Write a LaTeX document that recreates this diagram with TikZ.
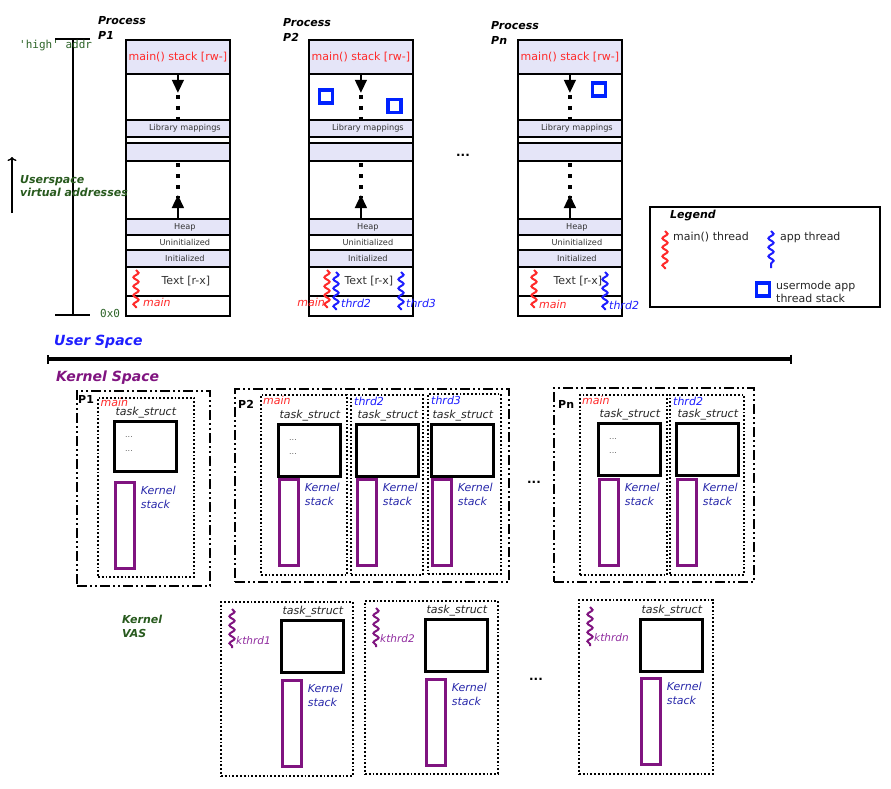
\documentclass[tikz,border=0pt]{standalone}
\usepackage{fontspec}
\setmainfont{DejaVu Sans}
\setmonofont{DejaVu Sans Mono}
\usetikzlibrary{arrows.meta,decorations.pathmorphing}

\definecolor{lav}{RGB}{229,229,248}
\definecolor{myred}{RGB}{255,42,42}
\definecolor{appblue}{RGB}{0,34,255}
\definecolor{thrblue}{RGB}{30,30,255}
\definecolor{kblue}{RGB}{40,40,170}
\definecolor{kpurple}{RGB}{128,20,128}
\definecolor{kthr}{RGB}{145,45,160}
\definecolor{vgreen}{RGB}{45,100,40}
\definecolor{dgreen}{RGB}{40,90,30}

% one user-space memory column of a process
\newcommand\ProcCol[2]{%
  \node[lavseg, minimum height=34pt, font=\fontsize{11}{13}\selectfont, text=myred] (#1-stack) at (#2,39) {main() stack [rw-]};
  \node[seg, minimum height=46pt] (#1-gapA) at (#2,73) {};
  \node[lavseg, minimum height=17pt] (#1-lib) at (#2,119) {\hspace*{14pt}Library mappings};
  \node[seg, minimum height=6pt] (#1-strip) at (#2,136) {};
  \node[lavseg, minimum height=18pt] (#1-map) at (#2,142) {};
  \node[seg, minimum height=58pt] (#1-gapB) at (#2,160) {};
  \node[lavseg, minimum height=16pt] (#1-heap) at (#2,218) {\hspace*{14pt}Heap};
  \node[seg, minimum height=15pt] (#1-bss) at (#2,234) {\hspace*{14pt}Uninitialized};
  \node[lavseg, minimum height=17pt] (#1-data) at (#2,249) {\hspace*{14pt}Initialized};
  \node[seg, minimum height=29pt, font=\fontsize{11}{13}\selectfont] (#1-text) at (#2,266) {\hspace*{16pt}Text [r-x]};
  \node[seg, minimum height=20pt] (#1-base) at (#2,295) {};
  % stack grows down, heap grows up
  \draw[growarrow] (#1-stack.south) -- ++(0,18) coordinate (#1-sd);
  \draw[growdots] ([yshift=-2pt]#1-sd) -- (#1-lib.north);
  \draw[growarrow] (#1-heap.north) -- ++(0,-23) coordinate (#1-hu);
  \draw[growdots] (#1-gapB.north) ++(0,3) -- ([yshift=-3pt]#1-hu);
}

% a task_struct with its kernel stack
\newcommand\Ctx[5]{%
  \node[tsk, minimum height=#4] (#1-task) at (#2,#3) {};
  \node[tslabel] at (#1-task.north east) {task\_struct};
  \node[kstk] (#1-kstk) at (#2+1,#5) {};
  \node[kslabel] at ([xshift=5pt,yshift=-5pt]#1-kstk.north east) {Kernel\\stack};
}
\newcommand\Elided[1]{%
  \node[elide] at ([xshift=12pt,yshift=-17pt]#1-task.north west) {...};
  \node[elide] at ([xshift=12pt,yshift=-31pt]#1-task.north west) {...};
}

\begin{document}
\begin{tikzpicture}[x=1pt,y=-1pt,
  seg/.style={draw, line width=1.8pt, inner sep=0pt, minimum width=104pt, anchor=north west,
    font=\fontsize{8.2}{9}\selectfont, text=black!80},
  lavseg/.style={seg, fill=lav},
  growarrow/.style={line width=1.5pt, -{Triangle[length=13pt,width=12pt]}},
  growdots/.style={line width=4pt, dash pattern=on 4pt off 7pt},
  appstk/.style={draw=appblue, line width=3.2pt, minimum size=13pt, inner sep=0pt},
  mainthr/.style={myred, line width=2pt, decorate, decoration={snake, segment length=9pt, amplitude=2.6pt}},
  appthr/.style={mainthr, thrblue},
  kthrd/.style={mainthr, kpurple},
  tname/.style={anchor=west, inner sep=0pt, font=\fontsize{11}{13}\selectfont\itshape},
  plabel/.style={anchor=north west, align=left, inner sep=0pt, font=\fontsize{11}{15}\selectfont\bfseries\itshape},
  procbox/.style={draw, line width=2pt, anchor=north west, inner sep=0pt,
    dash pattern=on 10pt off 3pt on 2pt off 3pt on 2pt off 3pt},
  thrbox/.style={draw, line width=1.8pt, anchor=north west, inner sep=0pt, dash pattern=on 1.8pt off 2pt},
  tsk/.style={draw, line width=2.8pt, anchor=north west, inner sep=0pt, minimum width=62pt},
  kstk/.style={draw=kpurple, line width=2.6pt, anchor=north west, inner sep=0pt, minimum width=19pt, minimum height=86pt},
  tslabel/.style={anchor=south east, inner sep=1.5pt, text=black!85, font=\fontsize{11}{13}\selectfont\itshape},
  kslabel/.style={anchor=north west, align=left, inner sep=0pt, text=kblue, font=\fontsize{11}{13.5}\selectfont\itshape},
  elide/.style={anchor=west, inner sep=0pt, text=black!60, font=\fontsize{8}{9}\selectfont},
  pk/.style={anchor=west, inner sep=0pt, font=\fontsize{11}{13}\selectfont\bfseries},
  more/.style={inner sep=0pt, font=\fontsize{12}{13}\selectfont\bfseries},
]
\fill[white] (0,0) rectangle (891,789);
\useasboundingbox (0,0) rectangle (891,789);

% ---------- user space ----------
\node[plabel] (p1lbl) at (98,16) {Process\\P1};
\node[plabel] (p2lbl) at (283,18) {Process\\P2};
\node[plabel] (pnlbl) at (491,21) {Process\\Pn};

\ProcCol{p1}{125}
\ProcCol{p2}{308}
\ProcCol{pn}{517}

% address range axis
\coordinate (hiL) at (55,39); \coordinate (hiR) at (90,39);
\coordinate (loL) at (55,315); \coordinate (loR) at (90,315);
\coordinate (axT) at (73,39); \coordinate (axB) at (73,315);
\draw[line width=1.5pt] (hiL) -- (hiR) (loL) -- (loR) (axT) -- (axB);
\node[anchor=west, inner sep=0pt, text=vgreen, font=\fontsize{11}{13}\ttfamily] (hi) at (19,46) {'high' addr};
\node[anchor=west, inner sep=0pt, text=vgreen, font=\fontsize{11}{13}\ttfamily] (lo) at (100,313) {0x0};
\coordinate (upB) at (12,213); \coordinate (upT) at (12,157);
\draw[line width=1.4pt, -{To[length=4pt,width=9pt]}] (upB) -- (upT);
\node[anchor=north west, align=left, inner sep=0pt, text=dgreen, font=\fontsize{11}{13}\selectfont\bfseries\itshape] (uva) at (20,175) {Userspace\\virtual addresses};

% user-mode thread stacks
\node[appstk] (s21) at (326,96.5) {};
\node[appstk] (s22) at (394.5,106) {};
\node[appstk] (sn2) at (599,89.5) {};

% threads
\draw[mainthr] (136,270) -- (136,308);
\node[tname, text=myred] at (143,302) {main};
\draw[mainthr] (327,270) -- (327,308);
\node[tname, text=myred, anchor=east] at (325,302) {main};
\draw[appthr] (336,272) -- (336,310);
\node[tname, text=thrblue] at (341,303) {thrd2};
\draw[appthr] (401,272) -- (401,310);
\node[tname, text=thrblue] at (406,303) {thrd3};
\draw[mainthr] (534,270) -- (534,308);
\node[tname, text=myred] at (539,304) {main};
\draw[appthr] (605,272) -- (605,310);
\node[tname, text=thrblue] at (609,305) {thrd2};

\node[more] (umore) at (463,155) {...};

% legend
\node[draw, line width=1.7pt, anchor=north west, minimum width=230pt, minimum height=100pt, inner sep=0pt] (legend) at (649,206) {};
\node[anchor=west, inner sep=0pt, font=\fontsize{11}{13}\selectfont\bfseries\itshape] at (670,216) {Legend};
\draw[mainthr] (665,231) -- (665,269);
\node[anchor=west, inner sep=0pt, font=\fontsize{11}{13}\selectfont, text=black!85] at (673,237) {main() thread};
\draw[appthr] (771,231) -- (771,268);
\node[anchor=west, inner sep=0pt, font=\fontsize{11}{13}\selectfont, text=black!85] at (780,237) {app thread};
\node[appstk] (lstk) at (763,289.5) {};
\node[anchor=west, align=left, inner sep=0pt, font=\fontsize{11}{13}\selectfont, text=black!85] at (776,291.5) {usermode app\\thread stack};

% ---------- user / kernel boundary ----------
\node[anchor=west, inner sep=0pt, text=thrblue, font=\fontsize{14}{16}\selectfont\bfseries\itshape] at (54,342) {User Space};
\coordinate (bndL) at (47,359); \coordinate (bndR) at (792,359);
\draw[line width=3.2pt, {Bar[width=9pt,line width=2pt]}-{Bar[width=9pt,line width=2pt]}] (bndL) -- (bndR);
\node[anchor=west, inner sep=0pt, text=kpurple, font=\fontsize{14}{16}\selectfont\bfseries\itshape] at (56,378) {Kernel Space};

% ---------- kernel: process P1 ----------
\node[procbox, minimum width=133pt, minimum height=195pt] (kp1) at (76,390) {};
\node[pk] at (78,399) {P1};
\node[thrbox, minimum width=96pt, minimum height=179pt] (k1m) at (97,397) {};
\node[tname, text=myred] at (100.5,402) {main};
\Ctx{k1m}{113}{420}{50pt}{481}
\Elided{k1m}

% ---------- kernel: process P2 ----------
\node[procbox, minimum width=274pt, minimum height=193pt] (kp2) at (234,388) {};
\node[pk] at (238,404) {P2};
\node[thrbox, minimum width=86pt, minimum height=180pt] (k2m) at (260,394) {};
\node[thrbox, minimum width=72pt, minimum height=180pt] (k2t2) at (350,394) {};
\node[thrbox, minimum width=73pt, minimum height=180pt] (k2t3) at (427,393) {};
\node[tname, text=myred] at (263,400) {main};
\node[tname, text=thrblue] at (354,401) {thrd2};
\node[tname, text=thrblue] at (431,400) {thrd3};
\Ctx{k2m}{277}{423}{52pt}{478}
\Elided{k2m}
\Ctx{k2t2}{355}{423}{52pt}{478}
\Ctx{k2t3}{430}{423}{52pt}{478}

\node[more] (kmore) at (534,482) {...};

% ---------- kernel: process Pn ----------
\node[procbox, minimum width=200pt, minimum height=194pt] (kpn) at (553,387) {};
\node[pk] at (558,404) {Pn};
\node[thrbox, minimum width=87pt, minimum height=180pt] (knm) at (579,394) {};
\node[thrbox, minimum width=74pt, minimum height=180pt] (knt2) at (669,394) {};
\node[tname, text=myred] at (582,400) {main};
\node[tname, text=thrblue] at (673,401) {thrd2};
\Ctx{knm}{597}{422}{52pt}{478}
\Elided{knm}
\Ctx{knt2}{675}{422}{52pt}{478}

% ---------- kernel threads ----------
\node[anchor=north west, align=left, inner sep=0pt, text=dgreen, font=\fontsize{11}{14}\selectfont\bfseries\itshape] (kvas) at (122,615) {Kernel\\VAS};

\node[thrbox, minimum width=132pt, minimum height=174pt] (kt1) at (220,601) {};
\draw[kthrd] (232,609) -- (232,648);
\node[tname, text=kthr, font=\fontsize{10.5}{12}\selectfont\itshape] at (236,641) {kthrd1};
\Ctx{kt1}{280}{619}{52pt}{679}

\node[thrbox, minimum width=133pt, minimum height=173pt] (kt2) at (364,600) {};
\draw[kthrd] (376,608) -- (376,647);
\node[tname, text=kthr, font=\fontsize{10.5}{12}\selectfont\itshape] at (380,639) {kthrd2};
\Ctx{kt2}{424}{618}{52pt}{678}

\node[more] (ktmore) at (536,679) {...};

\node[thrbox, minimum width=134pt, minimum height=174pt] (ktn) at (578,599) {};
\draw[kthrd] (590,607) -- (590,646);
\node[tname, text=kthr, font=\fontsize{10.5}{12}\selectfont\itshape] at (594,638) {kthrdn};
\Ctx{ktn}{639}{618}{52pt}{677}

\end{tikzpicture}
\end{document}
